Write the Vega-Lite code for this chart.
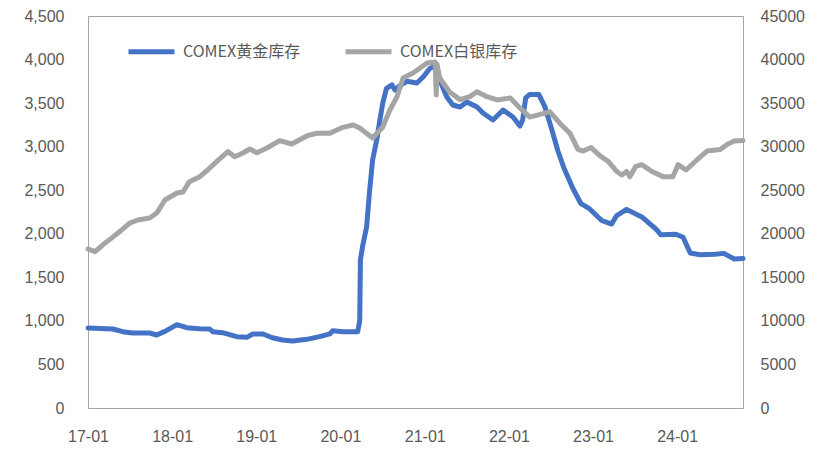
{
  "$schema": "https://vega.github.io/schema/vega-lite/v6.json",
  "autosize": "none",
  "width": 655,
  "height": 392,
  "padding": {"left": 88, "top": 16, "right": 83, "bottom": 48},
  "background": "white",
  "config": {
    "view": {"stroke": "#a6a6a6", "strokeWidth": 1},
    "axis": {
      "labelFont": "Liberation Sans",
      "labelFontSize": 16,
      "labelColor": "#595959",
      "grid": false,
      "ticks": false,
      "domainColor": "#a6a6a6",
      "title": null
    }
  },
  "data": {
    "values": [
      {"date": "2017-01-01", "series": "COMEX黄金库存", "v": 918},
      {"date": "2017-04-18", "series": "COMEX黄金库存", "v": 907},
      {"date": "2017-06-01", "series": "COMEX黄金库存", "v": 876},
      {"date": "2017-07-14", "series": "COMEX黄金库存", "v": 861},
      {"date": "2017-09-26", "series": "COMEX黄金库存", "v": 861},
      {"date": "2017-10-26", "series": "COMEX黄金库存", "v": 838},
      {"date": "2017-12-01", "series": "COMEX黄金库存", "v": 880},
      {"date": "2018-01-22", "series": "COMEX黄金库存", "v": 957},
      {"date": "2018-03-05", "series": "COMEX黄金库存", "v": 922},
      {"date": "2018-05-01", "series": "COMEX黄金库存", "v": 910},
      {"date": "2018-06-13", "series": "COMEX黄金库存", "v": 907},
      {"date": "2018-06-26", "series": "COMEX黄金库存", "v": 876},
      {"date": "2018-08-08", "series": "COMEX黄金库存", "v": 865},
      {"date": "2018-10-08", "series": "COMEX黄金库存", "v": 819},
      {"date": "2018-11-21", "series": "COMEX黄金库存", "v": 811},
      {"date": "2018-12-17", "series": "COMEX黄金库存", "v": 850},
      {"date": "2019-01-30", "series": "COMEX黄金库存", "v": 850},
      {"date": "2019-03-12", "series": "COMEX黄金库存", "v": 807},
      {"date": "2019-04-25", "series": "COMEX黄金库存", "v": 781},
      {"date": "2019-06-08", "series": "COMEX黄金库存", "v": 769},
      {"date": "2019-08-08", "series": "COMEX黄金库存", "v": 788},
      {"date": "2019-10-03", "series": "COMEX黄金库存", "v": 819},
      {"date": "2019-11-16", "series": "COMEX黄金库存", "v": 850},
      {"date": "2019-11-29", "series": "COMEX黄金库存", "v": 888},
      {"date": "2020-01-12", "series": "COMEX黄金库存", "v": 876},
      {"date": "2020-03-16", "series": "COMEX黄金库存", "v": 876},
      {"date": "2020-03-25", "series": "COMEX黄金库存", "v": 1000},
      {"date": "2020-03-28", "series": "COMEX黄金库存", "v": 1700},
      {"date": "2020-04-06", "series": "COMEX黄金库存", "v": 1850},
      {"date": "2020-04-24", "series": "COMEX黄金库存", "v": 2080},
      {"date": "2020-05-06", "series": "COMEX黄金库存", "v": 2470},
      {"date": "2020-05-20", "series": "COMEX黄金库存", "v": 2850},
      {"date": "2020-06-07", "series": "COMEX黄金库存", "v": 3080},
      {"date": "2020-06-20", "series": "COMEX黄金库存", "v": 3300},
      {"date": "2020-07-03", "series": "COMEX黄金库存", "v": 3500},
      {"date": "2020-07-19", "series": "COMEX黄金库存", "v": 3670},
      {"date": "2020-08-12", "series": "COMEX黄金库存", "v": 3710},
      {"date": "2020-08-25", "series": "COMEX黄金库存", "v": 3650},
      {"date": "2020-09-15", "series": "COMEX黄金库存", "v": 3700},
      {"date": "2020-10-16", "series": "COMEX黄金库存", "v": 3750},
      {"date": "2020-11-28", "series": "COMEX黄金库存", "v": 3730},
      {"date": "2020-12-25", "series": "COMEX黄金库存", "v": 3800},
      {"date": "2021-01-24", "series": "COMEX黄金库存", "v": 3900},
      {"date": "2021-02-19", "series": "COMEX黄金库存", "v": 3925},
      {"date": "2021-03-07", "series": "COMEX黄金库存", "v": 3765},
      {"date": "2021-04-07", "series": "COMEX黄金库存", "v": 3570},
      {"date": "2021-05-03", "series": "COMEX黄金库存", "v": 3478},
      {"date": "2021-06-03", "series": "COMEX黄金库存", "v": 3455},
      {"date": "2021-07-03", "series": "COMEX黄金库存", "v": 3513},
      {"date": "2021-08-16", "series": "COMEX黄金库存", "v": 3455},
      {"date": "2021-09-11", "series": "COMEX黄金库存", "v": 3386},
      {"date": "2021-10-24", "series": "COMEX黄金库存", "v": 3306},
      {"date": "2021-12-07", "series": "COMEX黄金库存", "v": 3421},
      {"date": "2022-01-19", "series": "COMEX黄金库存", "v": 3340},
      {"date": "2022-02-18", "series": "COMEX黄金库存", "v": 3237},
      {"date": "2022-03-02", "series": "COMEX黄金库存", "v": 3306},
      {"date": "2022-03-15", "series": "COMEX黄金库存", "v": 3560},
      {"date": "2022-04-02", "series": "COMEX黄金库存", "v": 3600},
      {"date": "2022-05-11", "series": "COMEX黄金库存", "v": 3600},
      {"date": "2022-06-06", "series": "COMEX黄金库存", "v": 3460},
      {"date": "2022-07-06", "series": "COMEX黄金库存", "v": 3200},
      {"date": "2022-08-02", "series": "COMEX黄金库存", "v": 2950},
      {"date": "2022-08-28", "series": "COMEX黄金库存", "v": 2755},
      {"date": "2022-10-06", "series": "COMEX黄金库存", "v": 2520},
      {"date": "2022-11-10", "series": "COMEX黄金库存", "v": 2345},
      {"date": "2022-12-18", "series": "COMEX黄金库存", "v": 2285},
      {"date": "2023-02-09", "series": "COMEX黄金库存", "v": 2150},
      {"date": "2023-03-23", "series": "COMEX黄金库存", "v": 2112},
      {"date": "2023-04-14", "series": "COMEX黄金库存", "v": 2209},
      {"date": "2023-05-27", "series": "COMEX黄金库存", "v": 2280},
      {"date": "2023-08-01", "series": "COMEX黄金库存", "v": 2193},
      {"date": "2023-10-01", "series": "COMEX黄金库存", "v": 2055},
      {"date": "2023-10-22", "series": "COMEX黄金库存", "v": 1990},
      {"date": "2023-12-27", "series": "COMEX黄金库存", "v": 1995},
      {"date": "2024-01-27", "series": "COMEX黄金库存", "v": 1960},
      {"date": "2024-02-27", "series": "COMEX黄金库存", "v": 1780},
      {"date": "2024-04-10", "series": "COMEX黄金库存", "v": 1760},
      {"date": "2024-06-13", "series": "COMEX黄金库存", "v": 1765},
      {"date": "2024-07-22", "series": "COMEX黄金库存", "v": 1775},
      {"date": "2024-09-05", "series": "COMEX黄金库存", "v": 1710},
      {"date": "2024-10-13", "series": "COMEX黄金库存", "v": 1715},
      {"date": "2017-01-01", "series": "COMEX白银库存", "v": 18250},
      {"date": "2017-02-01", "series": "COMEX白银库存", "v": 17950},
      {"date": "2017-03-05", "series": "COMEX白银库存", "v": 18710},
      {"date": "2017-04-13", "series": "COMEX白银库存", "v": 19500},
      {"date": "2017-05-18", "series": "COMEX白银库存", "v": 20240},
      {"date": "2017-07-01", "series": "COMEX白银库存", "v": 21230},
      {"date": "2017-08-05", "series": "COMEX白银库存", "v": 21580},
      {"date": "2017-09-26", "series": "COMEX白银库存", "v": 21810},
      {"date": "2017-10-26", "series": "COMEX白银库存", "v": 22380},
      {"date": "2017-12-01", "series": "COMEX白银库存", "v": 23880},
      {"date": "2018-01-22", "series": "COMEX白银库存", "v": 24680},
      {"date": "2018-02-17", "series": "COMEX白银库存", "v": 24800},
      {"date": "2018-03-17", "series": "COMEX白银库存", "v": 25980},
      {"date": "2018-05-01", "series": "COMEX白银库存", "v": 26550},
      {"date": "2018-06-04", "series": "COMEX白银库存", "v": 27320},
      {"date": "2018-07-13", "series": "COMEX白银库存", "v": 28280},
      {"date": "2018-08-31", "series": "COMEX白银库存", "v": 29430},
      {"date": "2018-09-30", "series": "COMEX白银库存", "v": 28850},
      {"date": "2018-11-04", "series": "COMEX白银库存", "v": 29270},
      {"date": "2018-12-04", "series": "COMEX白银库存", "v": 29730},
      {"date": "2019-01-04", "series": "COMEX白银库存", "v": 29310},
      {"date": "2019-02-16", "series": "COMEX白银库存", "v": 29850},
      {"date": "2019-04-13", "series": "COMEX白银库存", "v": 30690},
      {"date": "2019-06-04", "series": "COMEX白银库存", "v": 30310},
      {"date": "2019-08-08", "series": "COMEX白银库存", "v": 31230},
      {"date": "2019-09-21", "series": "COMEX白银库存", "v": 31540},
      {"date": "2019-11-16", "series": "COMEX白银库存", "v": 31540},
      {"date": "2020-01-12", "series": "COMEX白银库存", "v": 32220},
      {"date": "2020-02-25", "series": "COMEX白银库存", "v": 32490},
      {"date": "2020-03-25", "series": "COMEX白银库存", "v": 32140},
      {"date": "2020-05-20", "series": "COMEX白银库存", "v": 31000},
      {"date": "2020-07-03", "series": "COMEX白银库存", "v": 32260},
      {"date": "2020-08-03", "series": "COMEX白银库存", "v": 34210},
      {"date": "2020-09-03", "series": "COMEX白银库存", "v": 35740},
      {"date": "2020-09-29", "series": "COMEX白银库存", "v": 37880},
      {"date": "2020-11-11", "series": "COMEX白银库存", "v": 38460},
      {"date": "2020-12-12", "series": "COMEX白银库存", "v": 39030},
      {"date": "2021-01-11", "series": "COMEX白银库存", "v": 39600},
      {"date": "2021-02-15", "series": "COMEX白银库存", "v": 39720},
      {"date": "2021-02-20", "series": "COMEX白银库存", "v": 35930},
      {"date": "2021-02-23", "series": "COMEX白银库存", "v": 39500},
      {"date": "2021-03-07", "series": "COMEX白银库存", "v": 37880},
      {"date": "2021-04-19", "series": "COMEX白银库存", "v": 36270},
      {"date": "2021-06-03", "series": "COMEX白银库存", "v": 35400},
      {"date": "2021-07-16", "series": "COMEX白银库存", "v": 35740},
      {"date": "2021-08-16", "series": "COMEX白银库存", "v": 36310},
      {"date": "2021-09-28", "series": "COMEX白银库存", "v": 35740},
      {"date": "2021-11-11", "series": "COMEX白银库存", "v": 35360},
      {"date": "2022-01-07", "series": "COMEX白银库存", "v": 35600},
      {"date": "2022-02-18", "series": "COMEX白银库存", "v": 34450},
      {"date": "2022-04-02", "series": "COMEX白银库存", "v": 33400},
      {"date": "2022-05-16", "series": "COMEX白银库存", "v": 33700},
      {"date": "2022-06-28", "series": "COMEX白银库存", "v": 34000},
      {"date": "2022-08-10", "series": "COMEX白银库存", "v": 32700},
      {"date": "2022-09-24", "series": "COMEX白银库存", "v": 31500},
      {"date": "2022-10-28", "series": "COMEX白银库存", "v": 29700},
      {"date": "2022-11-19", "series": "COMEX白银库存", "v": 29500},
      {"date": "2022-12-24", "series": "COMEX白银库存", "v": 29900},
      {"date": "2023-02-01", "series": "COMEX白银库存", "v": 28950},
      {"date": "2023-03-06", "series": "COMEX白银库存", "v": 28360},
      {"date": "2023-04-14", "series": "COMEX白银库存", "v": 27150},
      {"date": "2023-05-06", "series": "COMEX白银库存", "v": 26750},
      {"date": "2023-05-27", "series": "COMEX白银库存", "v": 27150},
      {"date": "2023-06-10", "series": "COMEX白银库存", "v": 26560},
      {"date": "2023-07-06", "series": "COMEX白银库存", "v": 27740},
      {"date": "2023-08-01", "series": "COMEX白银库存", "v": 27930},
      {"date": "2023-09-14", "series": "COMEX白银库存", "v": 27150},
      {"date": "2023-11-01", "series": "COMEX白银库存", "v": 26560},
      {"date": "2023-12-14", "series": "COMEX白银库存", "v": 26560},
      {"date": "2024-01-05", "series": "COMEX白银库存", "v": 27930},
      {"date": "2024-02-09", "series": "COMEX白银库存", "v": 27320},
      {"date": "2024-03-28", "series": "COMEX白银库存", "v": 28500},
      {"date": "2024-05-10", "series": "COMEX白银库存", "v": 29500},
      {"date": "2024-07-06", "series": "COMEX白银库存", "v": 29680},
      {"date": "2024-08-05", "series": "COMEX白银库存", "v": 30260},
      {"date": "2024-09-05", "series": "COMEX白银库存", "v": 30650},
      {"date": "2024-10-13", "series": "COMEX白银库存", "v": 30700}
    ]
  },
  "encoding": {
    "x": {
      "field": "date",
      "type": "temporal",
      "scale": {"domain": ["2017-01-01", "2024-10-13"]},
      "axis": {
        "values": ["2017-01-01", "2018-01-01", "2019-01-01", "2020-01-01", "2021-01-01", "2022-01-01", "2023-01-01", "2024-01-01"],
        "format": "%y-%m",
        "labelPadding": 20,
        "labelFlush": false
      }
    },
    "color": {
      "field": "series",
      "type": "nominal",
      "scale": {"domain": ["COMEX黄金库存", "COMEX白银库存"], "range": ["#4472c4", "#a5a5a5"]},
      "legend": {
        "orient": "none",
        "legendX": 38,
        "legendY": 10,
        "direction": "horizontal",
        "title": null,
        "symbolType": "stroke",
        "symbolSize": 2116,
        "symbolStrokeWidth": 5,
        "labelFont": "Noto Sans CJK SC",
        "labelFontSize": 16,
        "labelColor": "#595959",
        "labelOffset": 6,
        "columnPadding": 34,
        "labelLimit": 300
      }
    }
  },
  "layer": [
    {
      "transform": [{"filter": "datum.series === 'COMEX黄金库存'"}],
      "mark": {"type": "line", "strokeWidth": 5, "strokeJoin": "round", "strokeCap": "round"},
      "encoding": {
        "y": {
          "field": "v",
          "type": "quantitative",
          "scale": {"domain": [0, 4500]},
          "axis": {
            "orient": "left",
            "values": [0, 500, 1000, 1500, 2000, 2500, 3000, 3500, 4000, 4500],
            "format": ",d",
            "labelPadding": 24
          }
        }
      }
    },
    {
      "transform": [{"filter": "datum.series === 'COMEX白银库存'"}],
      "mark": {"type": "line", "strokeWidth": 5, "strokeJoin": "round", "strokeCap": "round"},
      "encoding": {
        "y": {
          "field": "v",
          "type": "quantitative",
          "scale": {"domain": [0, 45000]},
          "axis": {
            "orient": "right",
            "values": [0, 5000, 10000, 15000, 20000, 25000, 30000, 35000, 40000, 45000],
            "format": "d",
            "labelPadding": 17
          }
        }
      }
    }
  ],
  "resolve": {"scale": {"y": "independent"}}
}
